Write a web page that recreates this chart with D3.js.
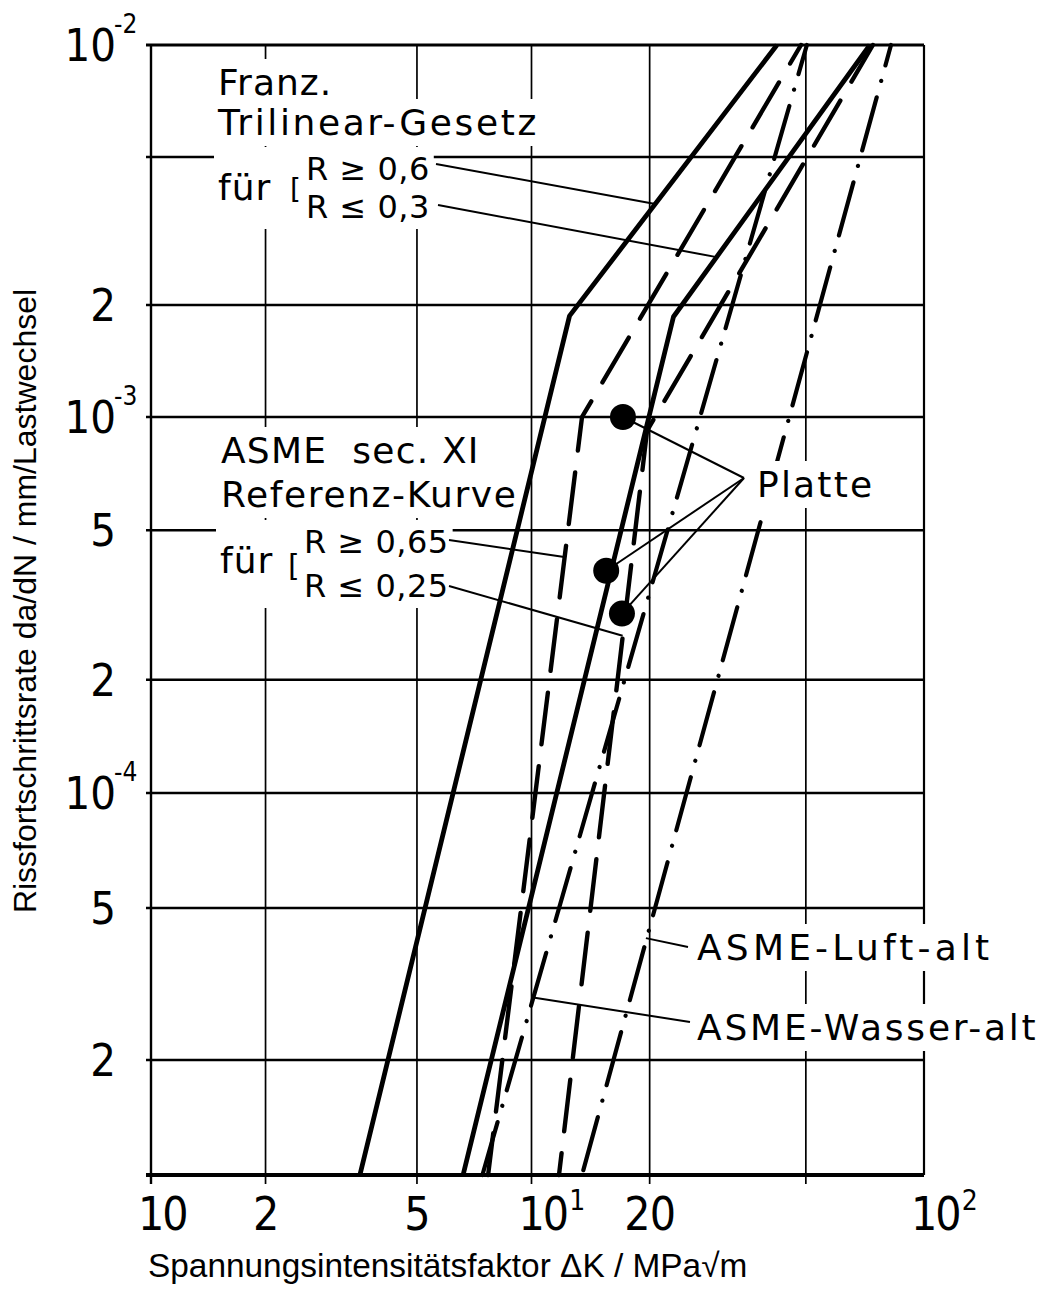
<!DOCTYPE html>
<html>
<head>
<meta charset="utf-8">
<script src="https://cdn.jsdelivr.net/npm/d3@7"></script>
<style>
  html, body { margin: 0; padding: 0; background: #fff; }
  svg { display: block; }
</style>
</head>
<body>
<script>
// Crack growth rate da/dN (mm/Lastwechsel) versus ΔK (MPa√m), points given as [ΔK, da/dN]
const franzHighR    = [[3.54, 1e-5], [12.5, 1.87e-3], [42.2, 1e-2]];   // Franz. trilinear, R ≥ 0,6
const franzLowR     = [[6.61, 1e-5], [23.0, 1.86e-3], [72.8, 1e-2]];   // Franz. trilinear, R ≤ 0,3
const asmeRefHighR  = [[7.69, 1e-5], [13.45, 1.0e-3], [48.6, 1e-2]];   // ASME XI reference, R ≥ 0,65
const asmeRefLowR   = [[11.75, 1e-5], [19.7, 9.2e-4], [74.1, 1e-2]];   // ASME XI reference, R ≤ 0,25
const asmeLuftAlt   = [[13.45, 1e-5], [82.4, 1e-2]];                   // ASME air, old
const asmeWasserAlt = [[7.43, 1e-5], [50.3, 1e-2]];                    // ASME water, old
const plattePoints  = [[17.1, 1.0e-3], [15.5, 3.9e-4], [17.0, 3.0e-4]];

const xGridValues = [1, 2, 5, 10, 20, 50, 100];
const xTickLabels = [[1, "10", ""], [2, "2", ""], [5, "5", ""], [10, "10", "1"], [20, "20", ""], [100, "10", "2"]];
const yGridValues = [1e-5, 2e-5, 5e-5, 1e-4, 2e-4, 5e-4, 1e-3, 2e-3, 5e-3, 1e-2];
const yTickLabels = [[1e-2, "10", "-2"], [2e-3, "2", ""], [1e-3, "10", "-3"], [5e-4, "5", ""],
                     [2e-4, "2", ""], [1e-4, "10", "-4"], [5e-5, "5", ""], [2e-5, "2", ""]];

const xTitle = "Spannungsintensitätsfaktor ΔK / MPa√m";
const yTitle = "Rissfortschrittsrate da/dN / mm/Lastwechsel";

const W = 1045, H = 1298;
const svg = d3.select("body").append("svg").attr("width", W).attr("height", H);

// log scales, one segment per decade as on the printed grid
const x = d3.scaleLog().domain([1, 10, 100]).range([151, 531.5, 924]);
const y = d3.scaleLog().domain([1e-5, 1e-4, 1e-3, 1e-2]).range([1175, 793, 417, 45]);
const xL = x(1), xR = x(100), yB = y(1e-5), yT = y(1e-2);

const tickFont = "'DejaVu Sans Condensed', 'DejaVu Sans', sans-serif";
const labelFont = "'DejaVu Sans', sans-serif";
const titleFont = "'Liberation Sans', Arial, sans-serif";

// ---- grid and frame ----
const grid = svg.append("g").attr("stroke", "#000").attr("fill", "none");
grid.selectAll("line.h").data(yGridValues).join("line").attr("class", "h")
  .attr("x1", xL - 5).attr("x2", xR)
  .attr("y1", d => y(d)).attr("y2", d => y(d))
  .attr("stroke-width", d => d === 1e-5 ? 4 : d === 1e-2 ? 3 : 2.6);
grid.selectAll("line.v").data(xGridValues).join("line").attr("class", "v")
  .attr("x1", d => x(d)).attr("x2", d => x(d))
  .attr("y1", yT).attr("y2", d => d === 100 ? yB : yB + 9)
  .attr("stroke-width", d => d === 1 ? 2.4 : d === 100 ? 2.2 : 1.7);

// layers: white patches behind text, curves, patches over curves, leaders, text
const masks = svg.append("g");
const curves = svg.append("g").attr("fill", "none").attr("stroke", "#000");
const topMasks = svg.append("g");
const leaders = svg.append("g").attr("fill", "none").attr("stroke", "#000").attr("stroke-width", 2);
const notes = svg.append("g").attr("fill", "#000");

// ---- tick labels ----
const yt = svg.append("g").attr("font-family", tickFont).attr("fill", "#000");
yTickLabels.forEach(([v, base, sup]) => {
  yt.append("text").attr("x", 116).attr("y", y(v) + 16).attr("text-anchor", "end")
    .attr("font-size", 45).text(base);
  if (sup) yt.append("text").attr("x", 114).attr("y", y(v) - 12)
    .attr("font-size", 26).text(sup);
});
const xt = svg.append("g").attr("font-family", tickFont).attr("fill", "#000");
xTickLabels.forEach(([v, base, sup]) => {
  if (sup || v === 1) {
    const t = xt.append("text").attr("x", x(v) - 13).attr("y", 1230).attr("font-size", 46)
      .attr("letter-spacing", -2);
    t.append("tspan").text(base);
    if (sup) t.append("tspan").attr("font-size", 28).attr("dx", 2).attr("dy", -20).text(sup);
  } else {
    xt.append("text").attr("x", x(v)).attr("y", 1230).attr("text-anchor", "middle")
      .attr("font-size", 46).attr("letter-spacing", -1).text(base);
  }
});

// axis titles
svg.append("text").attr("x", 148).attr("y", 1277).attr("font-family", titleFont)
  .attr("font-size", 33.4).attr("fill", "#000").text(xTitle);
svg.append("text").attr("transform", "translate(36,601) rotate(-90)").attr("text-anchor", "middle")
  .attr("font-family", titleFont).attr("font-size", 32).attr("fill", "#000").text(yTitle);

// ---- curves ----
const line = d3.line().x(d => x(d[0])).y(d => y(d[1]));
const solid = { "stroke-width": 4.8, "stroke-linejoin": "round" };
const longDash = { "stroke-width": 4.4, "stroke-linecap": "round", "stroke-dasharray": "52 22" };
const dashDot = { "stroke-width": 4.2, "stroke-linecap": "round", "stroke-dasharray": "55 17 0.1 16" };
[
  [franzHighR, solid, 0], [franzLowR, solid, 0],
  [asmeRefHighR, longDash, 10], [asmeRefLowR, longDash, 30],
  [asmeLuftAlt, dashDot, -5], [asmeWasserAlt, dashDot, 0]
].forEach(([data, style, off]) => {
  const p = curves.append("path").attr("d", line(data)).attr("stroke-dashoffset", off);
  Object.entries(style).forEach(([k, v]) => p.attr(k, v));
});

// point on a curve at a given rate (log-log interpolation)
function atRate(curve, v) {
  for (let i = 0; i < curve.length - 1; i++) {
    const [k0, r0] = curve[i], [k1, r1] = curve[i + 1];
    if (v >= r0 && v <= r1) {
      const t = (Math.log(v) - Math.log(r0)) / (Math.log(r1) - Math.log(r0));
      return [x(Math.exp(Math.log(k0) + t * (Math.log(k1) - Math.log(k0)))), y(v)];
    }
  }
  return null;
}

// ---- annotation text ----
const textGroups = {};
function addText(str, px, py, size, spacing, group) {
  const t = notes.append("text").attr("x", px).attr("y", py)
    .attr("font-family", labelFont).attr("font-size", size)
    .attr("letter-spacing", spacing).text(str);
  (textGroups[group] = textGroups[group] || []).push(t);
  return t;
}
addText("Franz.", 218, 95, 36, 1, "f1");
addText("Trilinear-Gesetz", 218, 135, 36, 2.6, "f2");
addText("für", 218, 200, 36, 1, "f3");
addText("[", 290, 199, 28, 0, "f3");
addText("R ≥ 0,6", 306, 180, 32, 0.5, "f3");
addText("R ≤ 0,3", 306, 218, 32, 0.5, "f3");

addText("ASME\u00A0\u00A0sec. XI", 221, 463, 36, 1.2, "a1");
addText("Referenz-Kurve", 221, 507, 36, 1.6, "a2");
addText("für", 220, 573, 36, 1, "a3");
addText("[", 288, 576, 30, 0, "a3");
addText("R ≥ 0,65", 304, 553, 32, 0.5, "a3");
addText("R ≤ 0,25", 304, 597, 32, 0.5, "a3");

addText("Platte", 757, 497, 36, 2.2, "p");
addText("ASME-Luft-alt", 697, 960, 36, 4.2, "l");
addText("ASME-Wasser-alt", 697, 1040, 36, 2.8, "w");

// the "Platte" patch also interrupts the curve running behind it
Object.entries(textGroups).forEach(([key, list]) => {
  const boxes = list.map(t => t.node().getBBox());
  const x0 = d3.min(boxes, b => b.x) - 4, x1 = d3.max(boxes, b => b.x + b.width) + 4;
  const y0 = d3.min(boxes, b => b.y) - 3, y1 = d3.max(boxes, b => b.y + b.height) + 3;
  (key === "p" ? topMasks : masks).append("rect")
    .attr("x", x0).attr("y", y0).attr("width", x1 - x0).attr("height", y1 - y0)
    .attr("fill", "#fff");
});

// ---- leader lines ----
[
  [[436, 164], atRate(franzHighR, 3.74e-3)],
  [[438, 205], atRate(franzLowR, 2.69e-3)],
  [[449, 540], atRate(asmeRefHighR, 4.24e-4)],
  [[449, 586], atRate(asmeRefLowR, 2.62e-4)],
  [atRate(asmeLuftAlt, 4.17e-5), [688, 947]],
  [atRate(asmeWasserAlt, 2.92e-5), [690, 1022]]
].forEach(([a, b]) => leaders.append("line")
  .attr("x1", a[0]).attr("y1", a[1]).attr("x2", b[0]).attr("y2", b[1]));

const platteAnchor = [744, 478];
plattePoints.forEach(d => leaders.append("line")
  .attr("x1", x(d[0])).attr("y1", y(d[1]))
  .attr("x2", platteAnchor[0]).attr("y2", platteAnchor[1]));

svg.append("g").selectAll("circle").data(plattePoints).join("circle")
  .attr("cx", d => x(d[0])).attr("cy", d => y(d[1])).attr("r", 13).attr("fill", "#000");
</script>
</body>
</html>
